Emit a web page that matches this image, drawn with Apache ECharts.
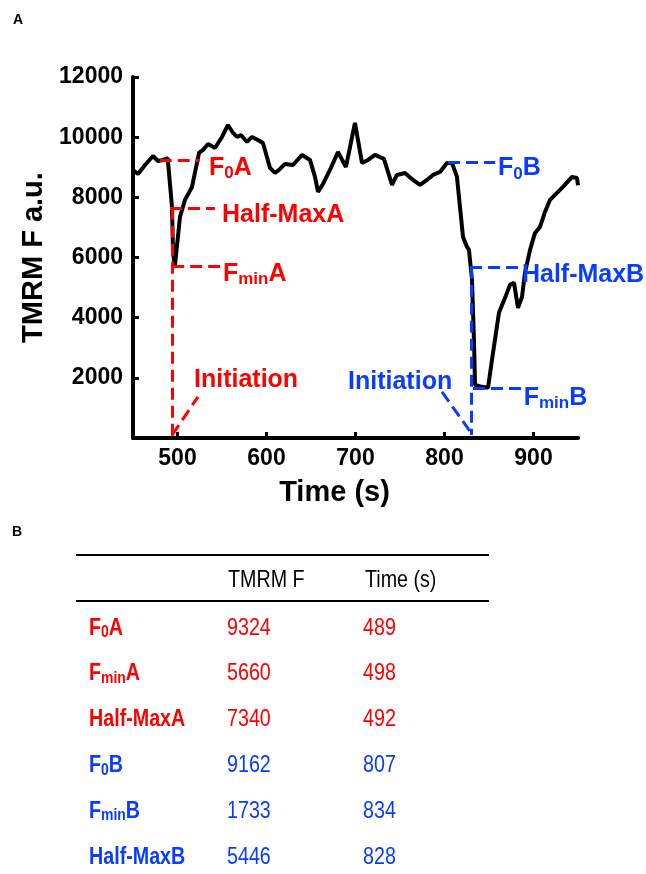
<!DOCTYPE html>
<html>
<head>
<meta charset="utf-8">
<script src="https://cdn.jsdelivr.net/npm/echarts@6/dist/echarts.min.js"></script>
<style>
  html, body { margin: 0; padding: 0; background: #fff; }
  #chart { width: 646px; height: 874px; }
</style>
</head>
<body>
<div id="chart"></div>
<script>
// trace (time in s, TMRM fluorescence a.u.)
const timeS = [450, 455.6, 463.5, 472.5, 478.1, 483.7, 489, 493.8, 495, 497, 502.8, 508.4, 516.3, 524.2,
  528.7, 534.3, 542.1, 550, 556.7, 562.4, 566.9, 571.3, 578.1, 583.7, 590.4, 596, 600.5, 603.9, 609.6,
  615.2, 620.8, 629.8, 639.9, 648.9, 654.5, 657.9, 663.5, 671.3, 680.3, 689.3, 699.4, 707.3, 714, 721.9,
  732, 736.5, 741, 746.6, 755.6, 764.6, 772.5, 780.3, 787.1, 794.9, 802.8, 808.4, 814, 817.4, 820.8,
  825.3, 827.5, 830.9, 833.1, 834.3, 842.1, 848.9, 854.5, 861.2, 868, 873.6, 878.1, 882.6, 887.1, 890.4,
  896.1, 901.7, 907.3, 912.9, 918.5, 926.4, 933.1, 943.3, 948.9, 950];
const tmrmF = [8910, 8777, 9076, 9375, 9209, 9243, 9300, 7681, 6153, 5700, 7349, 7914, 8345, 9475,
  9575, 9774, 9641, 10007, 10405, 10140, 10007, 10073, 9841, 10007, 9907, 9807, 9342, 8977, 8811,
  8944, 9110, 9076, 9409, 9242, 8678, 8180, 8445, 8910, 9508, 9010, 10472, 9143, 9243, 9409,
  9276, 8844, 8412, 8744, 8811, 8578, 8412, 8578, 8744, 8844, 9143, 9143, 8678, 7681, 6684,
  6352, 6252, 5256, 3262, 1767, 1701, 1668, 2831, 4160, 4658, 5090, 5156, 4326, 4691, 5488,
  6252, 6817, 7017, 7515, 7914, 8146, 8346, 8678, 8645, 8400];

const xTicks = [500, 600, 700, 800, 900];
const yTicks = [2000, 4000, 6000, 8000, 10000, 12000];

// dashed guide segments [t1, v1, t2, v2]
const guidesA = [[480, 9240, 525, 9240], [491.6, 7650, 542, 7650], [494, 5720, 548, 5720],
  [494, 7650, 494, 0], [494, 100, 523, 1370]];
const guidesB = [[804, 9176, 857, 9176], [828.7, 5690, 885, 5690], [832, 1668, 887, 1668],
  [829.8, 5690, 829.8, 100], [797.2, 1535, 829.8, 173]];

// annotation labels [t, v, text]
const labelsA = [[535.4, 8977, 'F_0A'], [550, 7415, 'Half-MaxA'], [551, 5455, 'F_minA'], [518.5, 1934, 'Initiation']];
const labelsB = [[860, 8960, 'F_0B'], [887, 5405, 'Half-MaxB'], [889, 1335, 'F_minB'], [691.6, 1867, 'Initiation']];

// table (panel B)
const rowNames = ['F_0A', 'F_minA', 'Half-MaxA', 'F_0B', 'F_minB', 'Half-MaxB'];
const rowTmrm = [9324, 5660, 7340, 9162, 1733, 5446];
const rowTime = [489, 498, 492, 807, 834, 828];
const rowGroup = ['A', 'A', 'A', 'B', 'B', 'B'];

const RED = '#ff0000';
const BLUE = '#0a3cff';
const FONT = 'Arial, "Liberation Sans", sans-serif';
const NARROW_X = 0.82; // table text is set in a narrow face

// 'F_0A' -> rich text with subscript
function richName(s) {
  const m = s.match(/^F_(0|min)(.*)$/);
  if (!m) return '{b|' + s + '}';
  return '{b|F}{s|' + m[1] + '}{b|' + m[2] + '}';
}

function segData(segs) {
  return segs.map(s => [{ coord: [s[0], s[1]] }, { coord: [s[2], s[3]] }]);
}

function annoSeries(segs, labels, color) {
  return {
    type: 'scatter',
    symbolSize: 0,
    z: 5,
    itemStyle: { opacity: 1, color: color },
    data: labels.map(l => ({ value: [l[0], l[1]], name: l[2] })),
    label: {
      show: true,
      position: 'right',
      distance: 0,
      opacity: 1,
      color: color,
      formatter: p => richName(p.name),
      rich: {
        b: { fontSize: 25, fontWeight: 'bold', color: color, opacity: 1, fontFamily: FONT, lineHeight: 28 },
        s: { fontSize: 17, fontWeight: 'bold', color: color, opacity: 1, fontFamily: FONT, lineHeight: 10, verticalAlign: 'bottom' }
      }
    },
    emphasis: { disabled: true },
    markLine: {
      silent: true,
      symbol: ['none', 'none'],
      label: { show: false },
      lineStyle: { color: color, width: 3, type: [12, 6], opacity: 1 },
      data: segData(segs)
    }
  };
}

const chart = echarts.init(document.getElementById('chart'), null, { renderer: 'canvas' });

// table graphics
const tableGraphics = [];
const tLeft = 76, tRight = 489;
function cellText(x, y, text, color) {
  return { type: 'text', x: x, y: y, scaleX: NARROW_X, style: { text: text, font: '24px ' + FONT, fill: color, verticalAlign: 'middle' } };
}
tableGraphics.push({ type: 'line', shape: { x1: tLeft, y1: 555, x2: tRight, y2: 555 }, style: { stroke: '#000', lineWidth: 2 } });
tableGraphics.push({ type: 'line', shape: { x1: tLeft, y1: 601, x2: tRight, y2: 601 }, style: { stroke: '#000', lineWidth: 2 } });
tableGraphics.push(cellText(228, 580, 'TMRM F', '#000'));
tableGraphics.push(cellText(365, 580, 'Time (s)', '#000'));
rowNames.forEach((nm, i) => {
  const y = 628 + i * 45.8;
  const c = rowGroup[i] === 'A' ? RED : BLUE;
  tableGraphics.push({
    type: 'text', x: 89, y: y, scaleX: NARROW_X,
    style: {
      text: richName(nm), verticalAlign: 'middle',
      rich: {
        b: { fontSize: 24, fontWeight: 'bold', fill: c, fontFamily: FONT, lineHeight: 26 },
        s: { fontSize: 17, fontWeight: 'bold', fill: c, fontFamily: FONT, lineHeight: 8, verticalAlign: 'bottom' }
      }
    }
  });
  tableGraphics.push(cellText(227, y, String(rowTmrm[i]), c));
  tableGraphics.push(cellText(363, y, String(rowTime[i]), c));
});

const option = {
  animation: false,
  backgroundColor: '#fff',
  grid: { left: 133, right: 68, top: 77, bottom: 436, containLabel: false },
  xAxis: {
    type: 'value',
    min: 450,
    max: 950,
    name: 'Time (s)',
    nameLocation: 'middle',
    nameGap: 40,
    nameTextStyle: { fontSize: 29, fontWeight: 'bold', color: '#000', fontFamily: FONT, padding: [0, 42, 0, 0] },
    axisLine: { show: true, onZero: false, lineStyle: { color: '#000', width: 4 } },
    axisTick: { show: true, inside: true, length: 6, customValues: xTicks, lineStyle: { color: '#000', width: 3 } },
    axisLabel: { customValues: xTicks, fontSize: 23, fontWeight: 'bold', color: '#000', fontFamily: FONT, margin: 9 },
    splitLine: { show: false }
  },
  yAxis: {
    type: 'value',
    min: 0,
    max: 12000,
    interval: 2000,
    name: 'TMRM F a.u.',
    nameLocation: 'middle',
    nameGap: 69,
    nameTextStyle: { fontSize: 29, fontWeight: 'bold', color: '#000', fontFamily: FONT },
    axisLine: { show: true, lineStyle: { color: '#000', width: 4 } },
    axisTick: { show: true, inside: true, length: 6, customValues: yTicks, lineStyle: { color: '#000', width: 3 } },
    axisLabel: {
      customValues: yTicks, fontSize: 23, fontWeight: 'bold', color: '#000', fontFamily: FONT, margin: 10,
      formatter: v => String(v)
    },
    splitLine: { show: false }
  },
  graphic: [
    { type: 'text', x: 13, y: 13, style: { text: 'A', font: 'bold 14px ' + FONT, fill: '#000' } },
    { type: 'text', x: 12, y: 525, style: { text: 'B', font: 'bold 14px ' + FONT, fill: '#000' } }
  ].concat(tableGraphics),
  series: [
    {
      type: 'line',
      data: timeS.map((t, i) => [t, tmrmF[i]]),
      showSymbol: false,
      smooth: false,
      lineStyle: { color: '#000', width: 4 },
      z: 3
    },
    annoSeries(guidesA, labelsA, RED),
    annoSeries(guidesB, labelsB, BLUE)
  ]
};

chart.setOption(option);
</script>
</body>
</html>
